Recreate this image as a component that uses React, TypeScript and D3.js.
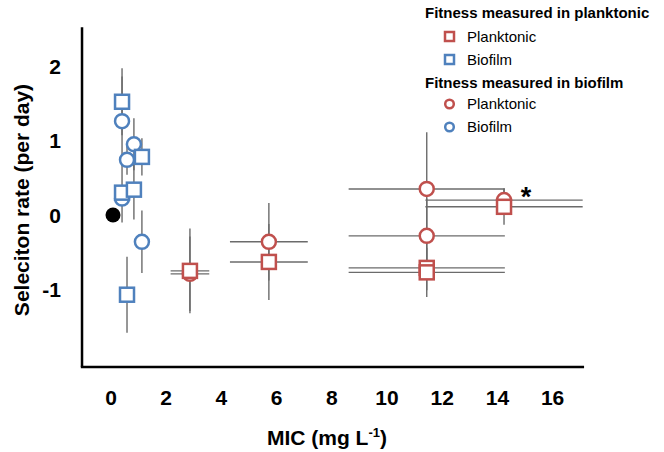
import React from "react";
import * as d3 from "d3";

// [MIC, selection rate, MIC error, rate error]
const planktonicFitnessPlanktonic: number[][] = [
  [2.86, -0.75, 0.7, 0.57],
  [5.72, -0.63, 1.41, 0.51],
  [11.44, -0.71, 2.83, 0.3],
  [11.44, -0.77, 2.83, 0.33],
  [14.24, 0.11, 2.85, 0.24],
];
const planktonicFitnessBiofilm: number[][] = [
  [0.4, 1.52, 0, 0.45],
  [1.12, 0.78, 0, 0.25],
  [0.4, 0.3, 0, 0.4],
  [0.83, 0.34, 0, 0.4],
  [0.58, -1.07, 0, 0.51],
];
const biofilmFitnessPlanktonic: number[][] = [
  [2.86, -0.79, 0.7, 0.5],
  [5.72, -0.36, 1.41, 0.52],
  [11.44, 0.35, 2.83, 0.76],
  [11.44, -0.28, 2.83, 0.5],
  [14.24, 0.2, 2.85, 0.16],
];
const biofilmFitnessBiofilm: number[][] = [
  [0.4, 1.26, 0, 0.6],
  [0.83, 0.95, 0, 0.35],
  [0.58, 0.74, 0, 0.2],
  [0.4, 0.22, 0, 0.1],
  [1.12, -0.36, 0, 0.42],
];
const ancestor: number[][] = [[0, 0]];
const xTicks = [0, 2, 4, 6, 8, 10, 12, 14, 16];
const yTicks = [2, 1, 0, -1];

const RED = "#c0504d";
const BLUE = "#4f81bd";
const ERR = "#6b6b6b";
const FONT = "Liberation Sans, Arial, sans-serif";

export default function App() {
  const x = d3.scaleLinear().domain([0, 16]).range([111, 552.6]);
  const y = d3.scaleLinear().domain([0, 1]).range([215, 140.5]);
  const axisX0 = x(-1.05);
  const axisX1 = x(17.14);
  const axisYTop = y(2.52);
  const axisYBot = y(-2.04);

  const errBars = (data: number[][], key: string) =>
    data.map((d, i) => (
      <g key={key + i} stroke={ERR} strokeWidth={1.4}>
        <line x1={x(d[0])} x2={x(d[0])} y1={y(d[1] - d[3])} y2={y(d[1] + d[3])} />
        {d[2] > 0 && (
          <line x1={x(d[0] - d[2])} x2={x(d[0] + d[2])} y1={y(d[1])} y2={y(d[1])} />
        )}
      </g>
    ));
  const squares = (data: number[][], color: string, key: string) =>
    data.map((d, i) => (
      <rect
        key={key + i}
        x={x(d[0]) - 7}
        y={y(d[1]) - 7}
        width={14}
        height={14}
        fill="#fff"
        stroke={color}
        strokeWidth={2.5}
      />
    ));
  const circles = (data: number[][], color: string, key: string) =>
    data.map((d, i) => (
      <circle
        key={key + i}
        cx={x(d[0])}
        cy={y(d[1])}
        r={7}
        fill="#fff"
        stroke={color}
        strokeWidth={2.5}
      />
    ));

  return (
    <svg
      width={664}
      height={452}
      style={{ position: "absolute", left: 0, top: 0, background: "#fff" }}
      fontFamily={FONT}
    >
      {/* axes */}
      <line x1={axisX0} x2={axisX0} y1={axisYTop} y2={axisYBot} stroke="#000" strokeWidth={2.5} />
      <line x1={axisX0 - 1.2} x2={axisX1} y1={axisYBot} y2={axisYBot} stroke="#000" strokeWidth={2.5} />

      {yTicks.map((t) => (
        <text key={"yt" + t} x={61} y={y(t) + 7.5} textAnchor="end" fontSize={21} fontWeight="bold">
          {t}
        </text>
      ))}
      {xTicks.map((t) => (
        <text key={"xt" + t} x={x(t)} y={405} textAnchor="middle" fontSize={21} fontWeight="bold">
          {t}
        </text>
      ))}
      <text x={327} y={445} textAnchor="middle" fontSize={21} fontWeight="bold">
        MIC (mg L<tspan dy={-8} fontSize={13}>-1</tspan>
        <tspan dy={8}>)</tspan>
      </text>
      <text
        transform={`translate(29,200) rotate(-90)`}
        textAnchor="middle"
        fontSize={21}
        fontWeight="bold"
      >
        Seleciton rate (per day)
      </text>

      {/* error bars */}
      {errBars(planktonicFitnessBiofilm, "ebs")}
      {errBars(biofilmFitnessBiofilm, "ebc")}
      {errBars(biofilmFitnessPlanktonic, "erc")}
      {errBars(planktonicFitnessPlanktonic, "ers")}

      {/* markers */}
      {circles(biofilmFitnessPlanktonic, RED, "rc")}
      {circles(biofilmFitnessBiofilm, BLUE, "bc")}
      {squares(planktonicFitnessPlanktonic, RED, "rs")}
      {squares(planktonicFitnessBiofilm, BLUE, "bs")}
      {ancestor.map((d, i) => (
        <circle key={"a" + i} cx={x(d[0]) + 2} cy={y(d[1])} r={7.5} fill="#000" />
      ))}

      <text x={526} y={206} textAnchor="middle" fontSize={27} fontWeight="bold">
        *
      </text>

      {/* legend */}
      <g fontSize={15}>
        <text x={425} y={18} fontWeight="bold">Fitness measured in planktonic</text>
        <rect x={445} y={32} width={9} height={9} fill="#fff" stroke={RED} strokeWidth={2.5} />
        <text x={467} y={42}>Planktonic</text>
        <rect x={445} y={55} width={9} height={9} fill="#fff" stroke={BLUE} strokeWidth={2.5} />
        <text x={467} y={65}>Biofilm</text>
        <text x={425} y={88} fontWeight="bold">Fitness measured in biofilm</text>
        <circle cx={449.5} cy={104} r={4.3} fill="#fff" stroke={RED} strokeWidth={2.5} />
        <text x={467} y={109}>Planktonic</text>
        <circle cx={449.5} cy={127} r={4.3} fill="#fff" stroke={BLUE} strokeWidth={2.5} />
        <text x={467} y={132}>Biofilm</text>
      </g>
    </svg>
  );
}
